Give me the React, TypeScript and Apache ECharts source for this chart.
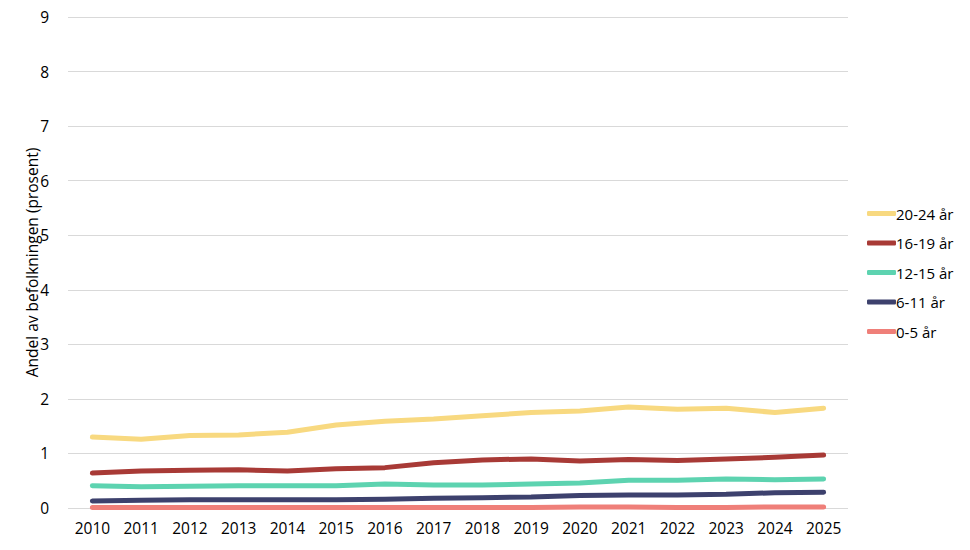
import React, { useEffect, useRef } from "react";
import * as echarts from "echarts";

const years = ["2010","2011","2012","2013","2014","2015","2016","2017","2018","2019","2020","2021","2022","2023","2024","2025"];
const s20_24 = [1.30,1.26,1.33,1.34,1.39,1.52,1.59,1.63,1.69,1.75,1.78,1.85,1.81,1.83,1.75,1.83];
const s16_19 = [0.64,0.68,0.69,0.70,0.68,0.72,0.74,0.83,0.88,0.90,0.86,0.89,0.87,0.90,0.93,0.97];
const s12_15 = [0.41,0.39,0.40,0.41,0.41,0.41,0.44,0.42,0.42,0.44,0.46,0.51,0.51,0.53,0.52,0.53];
const s6_11 = [0.13,0.14,0.15,0.15,0.15,0.15,0.16,0.18,0.19,0.20,0.23,0.24,0.24,0.25,0.28,0.29];
const s0_5 = [0.01,0.01,0.01,0.01,0.01,0.01,0.01,0.01,0.01,0.01,0.02,0.02,0.01,0.01,0.02,0.02];
const seriesNames = ["20-24 år","16-19 år","12-15 år","6-11 år","0-5 år"];
const colors = ["#f8d980","#a83a36","#5dd3b0","#3d416d","#ef7f79"];
const yTicks = [0,9,1];

export default function App() {
  const ref = useRef<HTMLDivElement>(null);
  useEffect(() => {
    const chart = echarts.init(ref.current!, null, { renderer: "svg" });
    const data = [s20_24, s16_19, s12_15, s6_11, s0_5];
    const font = "Open Sans";
    chart.setOption({
      animation: false,
      textStyle: { fontFamily: font },
      grid: { left: 68, right: 122, top: 17, bottom: 42, outerBoundsMode: "none", containLabel: false },
      legend: {
        orient: "vertical",
        left: 862,
        top: 201,
        itemGap: 14.5,
        itemWidth: 29,
        itemHeight: 5,
        icon: "roundRect",
        textStyle: { fontSize: 15, color: "#000", fontFamily: font, padding: [0, 0, 0, -5] },
        data: seriesNames,
      },
      xAxis: {
        type: "category",
        data: years,
        boundaryGap: true,
        axisLine: { show: false },
        axisTick: { show: false },
        axisLabel: { fontSize: 15.5, color: "#000", margin: 12 },
      },
      yAxis: {
        type: "value",
        min: yTicks[0],
        max: yTicks[1],
        interval: yTicks[2],
        name: "Andel av befolkningen (prosent)",
        nameLocation: "middle",
        nameGap: 28,
        nameMoveOverlap: false,
        nameTextStyle: { fontSize: 15.5, color: "#000" },
        axisLabel: { fontSize: 15.5, color: "#000", margin: 19 },
        splitLine: { lineStyle: { color: "#d9d9d9" } },
      },
      series: seriesNames.map((n, i) => ({
        name: n,
        type: "line",
        data: data[i],
        symbol: "none",
        z: 10 - i,
        lineStyle: { width: 5, color: colors[i], cap: "round", join: "round" },
        itemStyle: { color: colors[i] },
      })),
    });
    return () => chart.dispose();
  }, []);
  return <div ref={ref} style={{ width: 970, height: 550, margin: -8 }} />;
}
